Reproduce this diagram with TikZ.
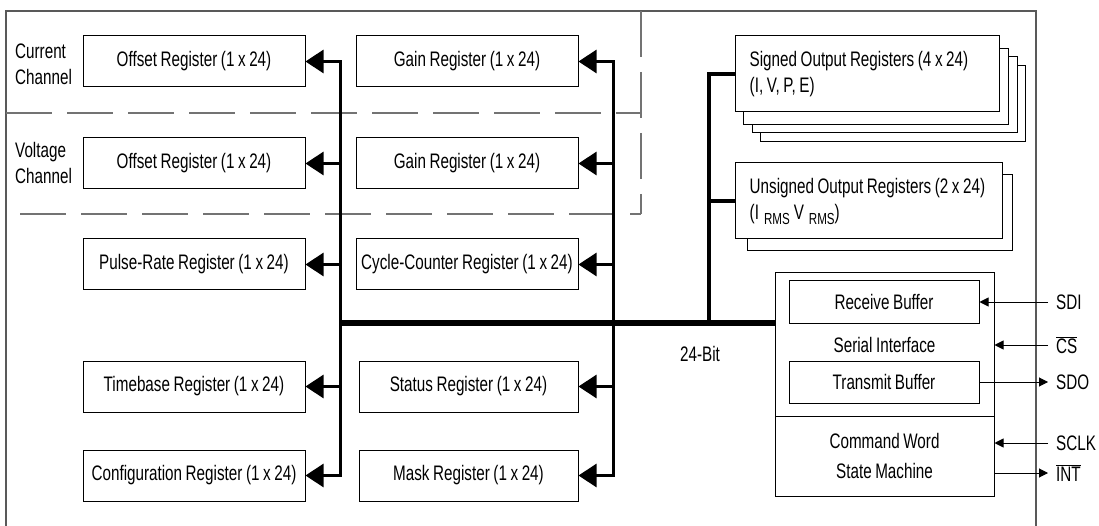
\documentclass[tikz,border=0pt]{standalone}
\usepackage{fontspec}
\setmainfont{Liberation Sans}[FakeStretch=0.725,WordSpace=0.85]
\usetikzlibrary{arrows.meta}
\newcommand{\rmssub}{\hspace{5pt}\raisebox{-5pt}{\fontsize{16pt}{16pt}\selectfont RMS}}
\begin{document}
\begin{tikzpicture}[x=1pt,y=-1pt,
  every node/.style={font=\fontsize{21pt}{26pt}\selectfont},
  reg/.style={draw, line width=1pt, minimum width=222pt, minimum height=51pt, inner sep=0pt, fill=white},
  plainbox/.style={draw, line width=1pt, inner sep=0pt, fill=white},
  boxtext/.style={anchor=west, align=left, inner sep=0pt},
  busline/.style={line width=3pt},
  mainbus/.style={line width=6pt},
  busarrow/.style={line width=3pt, shorten <=-1.5pt, -{Triangle[length=18pt,width=23pt]}},
  sig/.style={line width=1pt, -{Triangle[length=9pt,width=9pt]}},
  framel/.style={line width=1.5pt, draw=black!65},
  dashl/.style={line width=1.2pt, draw=black!55, dash pattern=on 46pt off 15pt},
  lbl/.style={anchor=west, inner xsep=8pt, inner ysep=0pt}
]
\useasboundingbox (0,0) rectangle (1099,526);

% outer frame and dashed channel areas
\draw[framel] (6,526) -- (6,11) -- (1036,11) -- (1036,526);
\draw[dashl] (6,113) -- (641,113);
\draw[dashl] (20,214) -- (641,214);
\draw[dashl] (641,11) -- (641,214);

% channel labels
\node[boxtext] (curlbl) at (15,64) {Current\\Channel};
\node[boxtext] (vollbl) at (15,163) {Voltage\\Channel};

% left column registers
\node[reg] (coff)  at (194,61.5)  {Offset Register (1 x 24)};
\node[reg] (voff)  at (194,163.5) {Offset Register (1 x 24)};
\node[reg] (pulse) at (194,264.5) {Pulse-Rate Register (1 x 24)};
\node[reg] (time)  at (194,386.5) {Timebase Register (1 x 24)};
\node[reg] (conf)  at (194,475.5) {Configuration Register (1 x 24)};

% right column registers
\node[reg] (cgain) at (467,61.5)  {Gain Register (1 x 24)};
\node[reg] (vgain) at (467,163.5) {Gain Register (1 x 24)};
\node[reg] (cycle) at (467,264.5) {Cycle-Counter Register (1 x 24)};
\node[reg, minimum width=219pt] (stat) at (468.5,386.5) {Status Register (1 x 24)};
\node[reg, minimum width=219pt] (mask) at (468.5,475.5) {Mask Register (1 x 24)};

% output registers
\node[plainbox, minimum width=265pt, minimum height=76pt] (s4) at (892.5,104) {};
\node[plainbox, minimum width=265pt, minimum height=76pt] (s3) at (884.5,95) {};
\node[plainbox, minimum width=265pt, minimum height=76pt] (s2) at (875.5,87) {};
\node[plainbox, minimum width=264pt, minimum height=76pt] (signed) at (867,74) {};
\node[boxtext] (signedtxt) at ([xshift=15pt]signed.west) {Signed Output Registers (4 x 24)\\(I, V, P, E)};
\node[plainbox, minimum width=265pt, minimum height=76pt] (u2) at (879.5,213) {};
\node[plainbox, minimum width=267pt, minimum height=76pt] (unsigned) at (868.5,201) {};
\node[boxtext] (unsignedtxt) at ([xshift=15pt]unsigned.west)
  {Unsigned Output Registers (2 x 24)\\(I\rmssub\hspace{4pt}V\rmssub)};

% serial interface
\node[plainbox, minimum width=219pt, minimum height=143pt] (serial) at (884.5,344.5) {};
\node[plainbox, minimum width=219pt, minimum height=80pt, align=center, font=\fontsize{21pt}{30pt}\selectfont] (cmd) at (884.5,456) {Command Word\\State Machine};
\node[plainbox, minimum width=190pt, minimum height=42pt] (rx) at (884,302) {Receive Buffer};
\node[plainbox, minimum width=190pt, minimum height=42pt] (tx) at (884,382) {Transmit Buffer};
\node[inner sep=0pt] (silbl) at (884.5,345) {Serial Interface};

% bus
\coordinate (lbus) at (340,323);
\coordinate (rbus) at (613,323);
\coordinate (obus) at (709,323);
\draw[busline] (lbus |- coff.east) -- (lbus |- conf.east);
\draw[busline] (rbus |- cgain.east) -- (rbus |- mask.east);
\foreach \n in {coff,voff,pulse,time,conf}
  \draw[busarrow] (lbus |- \n.east) -- (\n.east);
\foreach \n in {cgain,vgain,cycle,stat,mask}
  \draw[busarrow] (rbus |- \n.east) -- (\n.east);
\draw[mainbus] (lbus) -- (lbus -| serial.west);
\draw[line width=3.3pt] (obus) -- (obus |- signed.west) -- (signed.west);
\draw[line width=3.3pt] (obus |- unsigned.west) -- (unsigned.west);
\node[inner sep=0pt] (buslbl) at (700,354) {24-Bit};

% signal pins
\node[lbl] (sdi)  at (1048,302) {SDI};
\node[lbl] (cs)   at (1048,345) {$\overline{\mbox{CS}}$};
\node[lbl] (sdo)  at (1048,382) {SDO};
\node[lbl] (sclk) at (1048,443) {SCLK};
\node[lbl] (int)  at (1048,473) {$\overline{\mbox{INT}}$};
\draw[sig] (sdi.west) -- (rx.east);
\draw[sig] (cs.west) -- (cs.west -| serial.east);
\draw[sig] (tx.east) -- (sdo.west);
\draw[sig] (sclk.west) -- (sclk.west -| cmd.east);
\draw[sig] (int.west -| cmd.east) -- (int.west);
\end{tikzpicture}
\end{document}
